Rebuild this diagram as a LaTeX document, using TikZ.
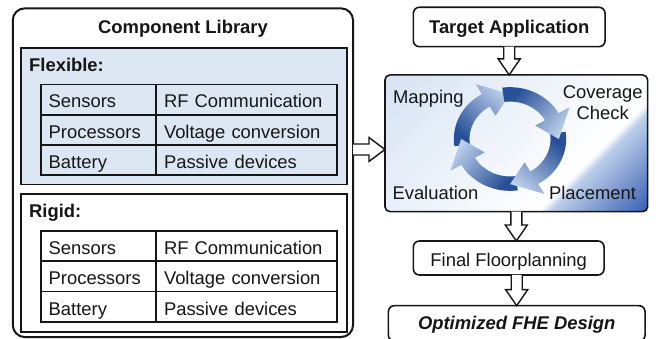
\documentclass[tikz,border=0pt]{standalone}
\usepackage{fontspec}
\setmainfont{Liberation Sans}
\usetikzlibrary{positioning,calc}
\definecolor{inkblack}{RGB}{22,22,22}
\definecolor{flexblue}{RGB}{221,231,243}
\definecolor{looptint}{RGB}{214,227,244}
\definecolor{loopcorner}{RGB}{50,90,176}
\definecolor{ringdark}{RGB}{40,80,152}
\definecolor{ringlight}{RGB}{188,207,235}

\newcommand{\figfont}{\fontsize{18.4}{21.5}\selectfont}

% gradients for the loop panel and the cycle arrows
\pgfdeclarehorizontalshading{loopfade}{100bp}{color(0bp)=(looptint); color(15bp)=(looptint); color(48bp)=(looptint!35!white); color(66bp)=(white); color(68bp)=(looptint!85!loopcorner); color(86bp)=(loopcorner); color(100bp)=(loopcorner)}
\pgfdeclarehorizontalshading{ringfade}{100bp}{color(0bp)=(ringdark); color(28bp)=(ringdark); color(76bp)=(ringlight); color(100bp)=(ringlight)}

% one curved arrow of the cycle, #1 = base angle
\newcommand{\cyclearrow}[1]{%
  \pgfmathsetmacro{\ringangle}{#1-131}%
  \shade[shading=ringfade, shading angle=\ringangle]
    (#1+8:54) arc[start angle=#1+8, end angle=#1-60, radius=54]
    -- (#1-60:66) -- (#1-90:47) -- (#1-60:28) -- (#1-60:39)
    arc[start angle=#1-60, end angle=#1+8, radius=39] -- cycle;}

% hollow block arrows
\newcommand{\hollowdown}[2]{%
  \draw[hollow] ($(#1)+(-5.5,0)$) -- ($(#2)+(-5.5,-16)$) -- ($(#2)+(-11,-16)$) -- (#2)
    -- ($(#2)+(11,-16)$) -- ($(#2)+(5.5,-16)$) -- ($(#1)+(5.5,0)$);}
\newcommand{\hollowright}[2]{%
  \draw[hollow] ($(#1)+(0,-5.5)$) -- ($(#2)+(-16,-5.5)$) -- ($(#2)+(-16,-12)$) -- (#2)
    -- ($(#2)+(-16,12)$) -- ($(#2)+(-16,5.5)$) -- ($(#1)+(0,5.5)$);}

\begin{document}
\begin{tikzpicture}[x=1pt, y=-1pt, font=\figfont, text=inkblack,
    libbox/.style={draw=inkblack, line width=2pt, rounded corners=12pt, outer sep=0pt},
    groupbox/.style={draw=inkblack, line width=1.8pt, outer sep=0pt},
    grouptitle/.style={font=\figfont\bfseries, anchor=base west, inner sep=0pt},
    cell/.style={draw=inkblack, line width=1.8pt, outer sep=0pt, inner xsep=8pt, inner ysep=0pt,
      minimum height=30.3pt, text height=17pt, text depth=0.4pt, align=left},
    namecell/.style={cell, text width=99.3pt},
    partcell/.style={cell, text width=164.7pt},
    stepbox/.style={draw=inkblack, line width=1.6pt, rounded corners=6pt, outer sep=0pt, fill=white},
    hollow/.style={draw=inkblack, line width=1.4pt, fill=white, line join=miter}]
  \useasboundingbox (0,0) rectangle (659,339);

  % component library
  \node[libbox, minimum width=340.3pt, minimum height=328.7pt] (lib) at (182.9,172.7) {};
  \node[font=\figfont\bfseries] (libtitle) at (183,28.5) {Component Library};

  \node[groupbox, fill=flexblue, minimum width=326pt, minimum height=136.8pt] (flex) at (183.7,116.1) {};
  \node[grouptitle] (flextitle) at (29,72) {Flexible:};
  \node[namecell, anchor=north west] (fsens) at (40.7,84.5) {Sensors};
  \node[partcell, right=0pt of fsens] (frf) {RF Communication};
  \node[namecell, below=0pt of fsens] (fproc) {Processors};
  \node[partcell, right=0pt of fproc] (fvolt) {Voltage conversion};
  \node[namecell, below=0pt of fproc] (fbatt) {Battery};
  \node[partcell, right=0pt of fbatt] (fpass) {Passive devices};

  \node[groupbox, fill=white, minimum width=326pt, minimum height=137.7pt] (rigid) at (183.7,262.9) {};
  \node[grouptitle] (rigidtitle) at (29,217.3) {Rigid:};
  \node[namecell, anchor=north west] (rsens) at (40.7,231) {Sensors};
  \node[partcell, right=0pt of rsens] (rrf) {RF Communication};
  \node[namecell, below=0pt of rsens] (rproc) {Processors};
  \node[partcell, right=0pt of rproc] (rvolt) {Voltage conversion};
  \node[namecell, below=0pt of rproc] (rbatt) {Battery};
  \node[partcell, right=0pt of rbatt] (rpass) {Passive devices};

  % design flow
  \node[stepbox, font=\figfont\bfseries, minimum width=191.7pt, minimum height=39.4pt,
    text height=15.5pt, text depth=1.7pt] (target) at (509.2,27) {Target Application};
  \node[stepbox, rounded corners=5pt, shading=loopfade, shading angle=-45,
    minimum width=262.7pt, minimum height=136.7pt] (loop) at (516.3,143.3) {};
  \node[stepbox, minimum width=190.7pt, minimum height=34pt,
    text height=18pt, text depth=0.2pt] (final) at (508.7,258) {Final Floorplanning};
  \node[stepbox, font=\figfont\bfseries\itshape, minimum width=256.7pt, minimum height=35.4pt,
    text height=15pt, text depth=2pt] (opt) at (516.7,323.4) {Optimized FHE Design};

  % optimisation cycle
  \begin{scope}[shift={(510,139)}, xscale=1.04, yscale=-0.96]
    \cyclearrow{-180}
    \cyclearrow{-90}
    \cyclearrow{0}
    \cyclearrow{90}
  \end{scope}
  \node (mapping) at (428.3,99) {Mapping};
  \node[align=center] (coverage) at (602.7,102.5) {Coverage\\Check};
  \node[anchor=base] (evaluation) at (435.5,200) {Evaluation};
  \node[anchor=base] (placement) at (592.5,200) {Placement};

  % block arrows
  \coordinate (libout) at (lib.east |- 0,149.5);
  \coordinate (loopin) at (loop.west |- 0,149.5);
  \hollowright{libout}{loopin}
  \coordinate (targetin) at (target.south |- loop.north);
  \hollowdown{target.south}{targetin}
  \coordinate (finalin) at (loop.south |- final.north);
  \hollowdown{loop.south}{finalin}
  \coordinate (finalout) at (opt.north |- final.south);
  \hollowdown{finalout}{opt.north}
\end{tikzpicture}
\end{document}
